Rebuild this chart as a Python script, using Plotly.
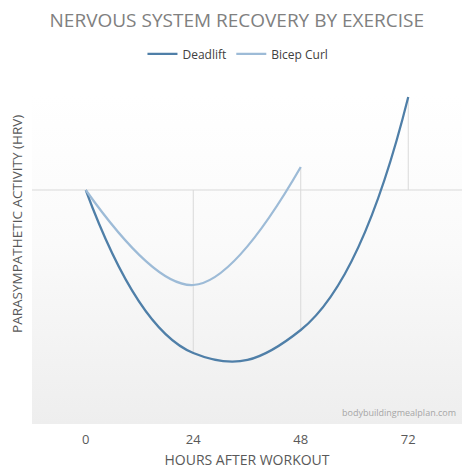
import plotly.graph_objects as go

# hours after workout
hours = [0, 24, 48, 72]
# parasympathetic activity relative to baseline (arbitrary units)
deadlift = [0, -163, -140, 93]
bicep_curl = [0, -95, 23]
baseline = [0, 0, 0, 0]

tick_labels = ["0", "24", "48", "72"]

X_RANGE = [-12, 84]
Y_RANGE = [-234, 95]

FONT = "Open Sans"
DEAD_COLOR = "#4f7fa8"
BICEP_COLOR = "#9dbbd7"
GRID = "#d9d9d9"

fig = go.Figure()

# gradient plot background (white at top, light grey at bottom)
fig.add_trace(go.Scatter(
    x=[X_RANGE[0], X_RANGE[1], X_RANGE[1], X_RANGE[0], X_RANGE[0]],
    y=[Y_RANGE[0], Y_RANGE[0], Y_RANGE[1], Y_RANGE[1], Y_RANGE[0]],
    mode="lines", line=dict(width=0), fill="toself",
    fillgradient=dict(type="vertical",
                      colorscale=[[0, "#eeeeee"], [0.55, "#fafafa"], [1, "#ffffff"]]),
    hoverinfo="skip", showlegend=False,
))

# horizontal baseline across the plot
fig.add_trace(go.Scatter(
    x=X_RANGE, y=[baseline[0], baseline[0]], mode="lines",
    line=dict(color=GRID, width=1),
    hoverinfo="skip", showlegend=False,
))

# high-low drop lines between series at each hour
drop_x, drop_y = [], []
for i, h in enumerate(hours):
    vals = [baseline[i], deadlift[i]]
    if i < len(bicep_curl):
        vals.append(bicep_curl[i])
    if max(vals) == min(vals):
        continue
    drop_x += [h, h, None]
    drop_y += [max(vals), min(vals), None]

fig.add_trace(go.Scatter(
    x=drop_x, y=drop_y, mode="lines",
    line=dict(color=GRID, width=1),
    hoverinfo="skip", showlegend=False,
))

fig.add_trace(go.Scatter(
    x=hours, y=deadlift, name="Deadlift", mode="lines",
    line=dict(color=DEAD_COLOR, width=2.25, shape="spline", smoothing=1.3),
))
fig.add_trace(go.Scatter(
    x=hours[:len(bicep_curl)], y=bicep_curl, name="Bicep Curl", mode="lines",
    line=dict(color=BICEP_COLOR, width=2.25, shape="spline", smoothing=1.1),
))

# page body adds an 8px offset, so the figure is drawn 8px smaller
fig.update_layout(
    width=467, height=467,
    margin=dict(l=24, r=13, t=87, b=51, autoexpand=False),
    paper_bgcolor="white", plot_bgcolor="white",
    font=dict(family=FONT, color="#595959", size=12),
    title=dict(text="NERVOUS SYSTEM RECOVERY BY EXERCISE",
               x=0.49, xanchor="center", y=0.974, yanchor="middle",
               font=dict(family=FONT, size=19, color="#808080")),
    legend=dict(orientation="h", x=0.479, xanchor="center", y=1.125, yanchor="middle",
                font=dict(family=FONT, size=12, color="#404040"),
                itemwidth=30, tracegroupgap=0),
    showlegend=True,
)

fig.update_xaxes(
    range=X_RANGE, tickvals=hours, ticktext=tick_labels, automargin=False,
    showgrid=False, zeroline=False, showline=False, ticks="",
    ticklabelstandoff=6,
    tickfont=dict(size=13, color="#595959"),
    title=dict(text="HOURS AFTER WORKOUT", standoff=8,
               font=dict(size=14, color="#595959")),
)
fig.update_yaxes(
    range=Y_RANGE, showticklabels=False, showgrid=False, automargin=False,
    zeroline=False, showline=False,
)

# y title sits above the plot's centre in the original, so place it by hand
fig.add_annotation(
    text="PARASYMPATHETIC ACTIVITY (HRV)", textangle=-90,
    xref="paper", yref="paper", x=-0.035, y=0.608,
    xanchor="center", yanchor="middle", showarrow=False,
    font=dict(family=FONT, size=13.5, color="#595959"),
)

fig.add_annotation(
    text="bodybuildingmealplan.com", xref="paper", yref="paper",
    x=0.99, y=0.01, xanchor="right", yanchor="bottom", showarrow=False,
    font=dict(family=FONT, size=9, color="#a6a6a6"),
)

fig.write_html("out.html")
